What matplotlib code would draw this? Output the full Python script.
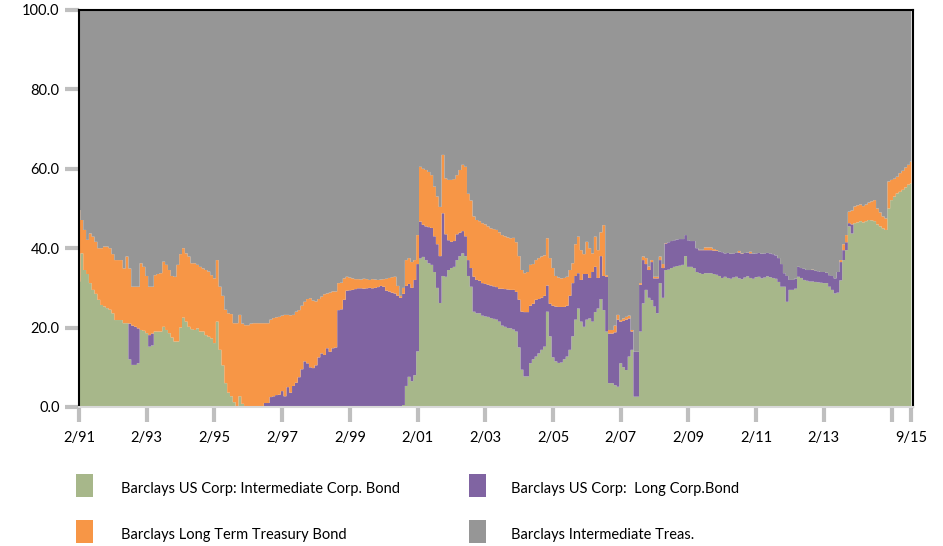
import numpy as np
import matplotlib
matplotlib.use('Agg')
import matplotlib.pyplot as plt
from matplotlib.patches import Rectangle

# month index 0 = Feb 1991 ... 295 = Sep 2015
months = np.arange(296)

tick_pos = [0, 24, 48, 72, 96, 120, 144, 168, 192, 216, 240, 264, 288, 295]
tick_labels = ["2/91", "2/93", "2/95", "2/97", "2/99", "2/01", "2/03", "2/05",
               "2/07", "2/09", "2/11", "2/13", "", "9/15"]

series_names = ["Barclays US Corp: Intermediate Corp. Bond",
                "Barclays US Corp:  Long Corp.Bond",
                "Barclays Long Term Treasury Bond",
                "Barclays Intermediate Treas."]
colors = ["#A7B78A", "#8064A2", "#F79646", "#969696"]

# Intermediate corporate share (%)
corp_int = [
    31.6, 38.7, 34.5, 33.5, 31.2, 29.5, 28.5, 27.0, 25.7, 25.3,
    24.9, 24.5, 23.6, 21.9, 21.9, 21.9, 21.1, 21.1, 12.0, 10.6,
    10.6, 11.0, 19.4, 19.2, 18.6, 15.2, 15.5, 19.0, 19.0, 19.0,
    20.2, 19.4, 18.6, 17.5, 16.5, 16.5, 20.0, 22.5, 21.5, 20.2,
    19.6, 19.4, 19.8, 19.0, 19.0, 18.1, 17.7, 17.3, 16.1, 21.5,
    14.4, 10.5, 6.0, 3.6, 2.7, 1.2, 0.2, 2.7, 0.8, 0,
    0, 0, 0, 0, 0, 0, 0, 0, 0, 0,
    0, 0, 0, 0, 0, 0, 0, 0, 0, 0,
    0, 0, 0, 0, 0, 0, 0, 0, 0, 0,
    0, 0, 0, 0, 0, 0, 0, 0, 0, 0,
    0, 0, 0, 0, 0, 0, 0, 0, 0, 0,
    0, 0, 0, 0, 0, 0.5, 5.3, 7.6, 6.5, 8.0,
    14.0, 37.4, 37.8, 37.0, 36.2, 35.8, 34.0, 30.0, 26.2, 33.0,
    32.8, 34.5, 35.0, 35.3, 37.0, 38.0, 38.7, 38.0, 33.0, 30.3,
    24.0, 23.6, 23.6, 23.0, 22.8, 22.7, 22.4, 22.2, 22.0, 21.5,
    20.5, 20.2, 19.9, 19.8, 19.5, 19.0, 15.0, 9.4, 7.7, 7.7,
    11.0, 12.0, 12.7, 13.5, 14.4, 15.2, 24.0, 17.8, 12.5, 11.5,
    11.1, 11.2, 12.0, 12.7, 14.4, 17.8, 22.0, 24.8, 21.5, 20.2,
    22.0, 22.3, 21.5, 23.9, 24.8, 27.2, 24.4, 19.0, 6.0, 6.0,
    5.5, 5.1, 11.0, 10.0, 9.3, 12.7, 14.4, 2.6, 2.6, 19.0,
    26.1, 29.5, 27.5, 26.9, 25.3, 23.6, 31.2, 27.5, 34.5, 34.6,
    35.0, 35.3, 35.5, 35.6, 35.8, 38.0, 35.3, 35.3, 35.0, 34.0,
    33.7, 33.5, 33.7, 33.7, 33.7, 33.5, 33.3, 33.0, 32.5, 32.8,
    32.5, 32.3, 32.6, 32.8, 32.4, 32.2, 32.6, 32.9, 32.5, 32.3,
    32.7, 32.8, 32.4, 32.6, 32.9, 32.7, 32.5, 32.3, 31.5, 30.3,
    30.3, 26.5, 29.5, 29.5, 29.8, 32.8, 32.5, 32.0, 31.8, 31.6,
    31.6, 31.5, 31.4, 31.3, 31.2, 31.2, 30.3, 29.5, 28.6, 28.8,
    31.9, 37.0, 39.5, 45.5, 43.7, 46.3, 46.5, 46.8, 46.5, 46.8,
    47.1, 47.0, 46.8, 46.0, 45.5, 45.0, 44.6, 50.0, 52.1, 53.0,
    53.8, 54.2, 54.7, 55.3, 56.0, 56.3,
]

# Cumulative level after adding Long Corp (%)
level_long_corp = [
    31.6, 38.7, 34.5, 33.5, 31.2, 29.5, 28.5, 27.0, 25.7, 25.3,
    24.9, 24.5, 23.6, 21.9, 21.9, 21.9, 21.1, 21.1, 21.0, 20.5,
    20.2, 19.8, 19.4, 19.2, 18.6, 18.1, 18.5, 19.0, 19.0, 19.0,
    20.2, 19.4, 18.6, 17.5, 16.5, 16.5, 20.0, 22.5, 21.5, 20.2,
    19.6, 19.4, 19.8, 19.0, 19.0, 18.1, 17.7, 17.3, 16.1, 21.5,
    14.4, 10.5, 6.0, 3.6, 2.7, 1.2, 0.2, 2.7, 0.8, 0,
    0, 0, 0, 0, 0, 0, 1.0, 1.0, 2.5, 2.7,
    3.0, 3.1, 4.0, 2.7, 5.0, 3.6, 5.3, 6.1, 7.5, 9.5,
    11.5, 11.0, 10.0, 9.8, 10.5, 12.5, 13.5, 13.1, 14.8, 13.9,
    14.8, 15.0, 24.4, 24.6, 27.0, 29.3, 29.4, 29.5, 29.7, 29.9,
    29.9, 29.8, 29.9, 30.0, 29.9, 30.0, 30.2, 30.5, 30.3, 29.3,
    29.1, 28.8, 28.6, 28.0, 27.5, 28.5, 30.5, 31.0, 30.0, 32.0,
    36.0, 46.7, 45.9, 45.5, 45.3, 45.1, 43.0, 41.0, 38.0, 48.8,
    43.5, 42.0, 41.6, 41.8, 43.5, 43.9, 44.3, 43.0, 37.0, 35.0,
    32.8, 32.0, 31.8, 31.2, 31.0, 30.8, 30.6, 30.4, 30.2, 29.8,
    29.8, 29.7, 29.6, 29.5, 29.5, 29.0, 27.0, 24.0, 23.9, 23.9,
    25.5, 26.0, 27.0, 27.2, 27.5, 28.0, 30.6, 26.0, 25.5, 25.3,
    25.2, 25.2, 25.2, 25.5, 28.0, 31.2, 33.0, 33.7, 32.0, 33.5,
    33.5, 32.5, 34.0, 35.3, 32.5, 38.0, 33.0, 32.8, 18.5, 18.5,
    18.8, 22.0, 21.5, 21.7, 22.0, 22.3, 19.0, 13.9, 13.9, 30.8,
    37.0, 36.0, 34.5, 36.5, 32.4, 32.4, 37.0, 35.0, 41.2, 41.5,
    41.8, 42.0, 42.2, 42.3, 42.3, 43.3, 42.0, 41.8, 41.8, 40.0,
    39.5, 39.5, 39.5, 39.5, 39.5, 39.4, 39.3, 39.1, 39.0, 38.7,
    38.8, 38.6, 38.7, 38.8, 38.9, 38.6, 38.8, 38.9, 38.7, 38.6,
    38.7, 38.8, 38.6, 38.7, 38.8, 38.7, 38.5, 38.2, 37.5, 36.0,
    33.7, 33.0, 32.0, 32.0, 32.3, 35.3, 35.0, 34.8, 34.5, 34.5,
    34.5, 34.3, 34.2, 34.0, 34.0, 33.8, 33.2, 33.0, 32.4, 34.0,
    36.5, 39.5, 41.5, 46.3, 46.0, 46.3, 46.5, 46.8, 46.5, 46.8,
    47.1, 47.0, 46.8, 46.0, 45.5, 45.0, 44.6, 50.0, 52.1, 53.0,
    53.8, 54.2, 54.7, 55.3, 56.0, 56.3,
]

# Cumulative level after adding Long Term Treasury (%)
level_lt_treas = [
    49.6, 47.1, 44.6, 42.1, 43.7, 42.9, 41.6, 40.0, 40.0, 40.4,
    40.4, 40.0, 38.5, 37.0, 37.0, 37.0, 34.9, 37.9, 34.9, 30.3,
    30.3, 30.3, 36.2, 35.3, 33.0, 30.3, 30.3, 33.2, 33.5, 33.7,
    36.6, 35.8, 34.5, 33.0, 32.8, 35.8, 38.5, 40.0, 38.7, 37.9,
    36.2, 36.2, 35.8, 35.3, 34.9, 34.5, 34.1, 33.2, 32.4, 37.0,
    30.3, 28.0, 24.5, 23.6, 23.4, 21.1, 21.1, 23.2, 21.0, 20.6,
    20.6, 21.0, 21.1, 21.1, 21.1, 21.1, 21.1, 21.1, 22.0, 22.4,
    22.6, 22.7, 23.0, 23.2, 23.2, 23.1, 23.2, 24.0, 24.4, 25.5,
    26.5, 27.2, 27.4, 26.8, 26.6, 27.2, 27.8, 28.4, 28.6, 28.8,
    29.1, 29.1, 31.2, 31.3, 32.4, 32.8, 32.6, 32.4, 32.2, 32.2,
    32.1, 32.3, 32.2, 32.0, 32.2, 32.1, 32.0, 32.1, 32.2, 32.3,
    32.5, 32.7, 32.8, 30.5, 28.0, 30.0, 37.0, 37.5, 36.5, 37.0,
    43.3, 60.5, 60.0, 59.7, 59.2, 58.4, 55.5, 53.0, 50.4, 63.5,
    57.6, 57.2, 57.2, 57.4, 58.4, 59.7, 61.0, 60.5, 53.7, 52.0,
    48.0, 47.1, 46.8, 46.3, 46.0, 45.5, 45.0, 44.8, 44.6, 44.0,
    43.3, 43.0, 42.7, 42.5, 42.6, 41.5, 38.0, 34.5, 33.7, 34.0,
    35.8, 36.0, 37.0, 37.5, 37.9, 38.2, 42.5, 37.5, 35.0, 33.0,
    32.6, 32.4, 32.5, 32.8, 34.5, 36.2, 41.0, 42.9, 39.5, 38.5,
    41.6, 40.0, 38.7, 42.9, 39.5, 44.0, 45.8, 33.2, 19.4, 19.4,
    20.5, 23.2, 21.9, 22.3, 22.7, 23.0, 19.4, 13.9, 13.9, 31.2,
    37.9, 37.5, 35.4, 37.0, 32.8, 32.8, 37.9, 36.0, 41.3, 41.5,
    41.8, 42.0, 42.2, 42.3, 42.3, 43.3, 42.0, 41.8, 41.8, 40.0,
    39.6, 39.6, 40.2, 40.2, 40.2, 39.8, 39.5, 39.1, 39.0, 38.7,
    38.8, 38.6, 38.7, 38.8, 39.3, 38.7, 38.8, 38.9, 39.1, 38.6,
    38.7, 38.8, 38.6, 38.7, 38.8, 38.7, 38.5, 38.2, 37.5, 36.0,
    33.7, 33.0, 32.0, 32.0, 32.3, 35.3, 35.0, 34.8, 34.5, 34.5,
    34.6, 34.3, 34.2, 34.0, 34.0, 33.8, 33.2, 33.0, 32.4, 34.0,
    37.0, 41.0, 43.3, 49.2, 49.5, 50.5, 50.8, 51.0, 50.6, 51.0,
    51.5, 51.8, 52.1, 50.0, 49.0, 48.0, 47.5, 56.8, 57.2, 57.5,
    58.0, 58.9, 59.5, 60.3, 61.0, 61.8,
]

g = np.array(corp_int, dtype=float)
lc = np.clip(np.array(level_long_corp) - g, 0, None)
lt = np.clip(np.array(level_lt_treas) - np.array(level_long_corp), 0, None)
it = np.clip(100 - np.array(level_lt_treas), 0, None)

plt.rcParams['font.family'] = ['Lato', 'DejaVu Sans']

fig = plt.figure(figsize=(9.43, 5.46), dpi=100)
ax = fig.add_axes([0.0838, 0.2546, 0.8844, 0.7271])

# stacked areas drawn as monthly steps
layers = [g, lc, lt, it]
base = np.zeros_like(g)
for vals, col in zip(layers, colors):
    top = base + vals
    ax.fill_between(months, base, top, step='mid', facecolor=col,
                    edgecolor='none', linewidth=0)
    base = top

ax.set_xlim(0, 295.6)
ax.set_ylim(0, 100)
ax.set_yticks([0, 20, 40, 60, 80, 100])
ax.set_yticklabels(["0.0", "20.0", "40.0", "60.0", "80.0", "100.0"])
ax.set_xticks(tick_pos)
ax.set_xticklabels(tick_labels)

ax.tick_params(axis='both', colors='#BFBFBF', labelcolor='black', labelsize=10.5)
ax.tick_params(axis='y', direction='out', length=10, width=3, pad=4)
ax.tick_params(axis='x', direction='out', length=11, width=3, pad=6)

for s in ['left', 'top', 'right']:
    ax.spines[s].set_color('black')
    ax.spines[s].set_linewidth(1.5)
ax.spines['bottom'].set_color('#D9D9D9')
ax.spines['bottom'].set_linewidth(1.5)

# legend, laid out as in the reference (2 x 2 grid)
legend_items = [
    (0.0806, 0.0897, 0.1283, 0.104, 0),
    (0.4973, 0.0897, 0.5419, 0.104, 1),
    (0.0806, 0.0055, 0.1283, 0.020, 2),
    (0.4973, 0.0055, 0.5419, 0.020, 3),
]
for bx, by, tx, ty, i in legend_items:
    fig.add_artist(Rectangle((bx, by), 0.018, 0.0421, transform=fig.transFigure,
                             facecolor=colors[i], edgecolor='none'))
    fig.text(tx, ty, series_names[i], fontsize=10.5, va='center', ha='left', color='black')

fig.savefig('out.png', dpi=100)
